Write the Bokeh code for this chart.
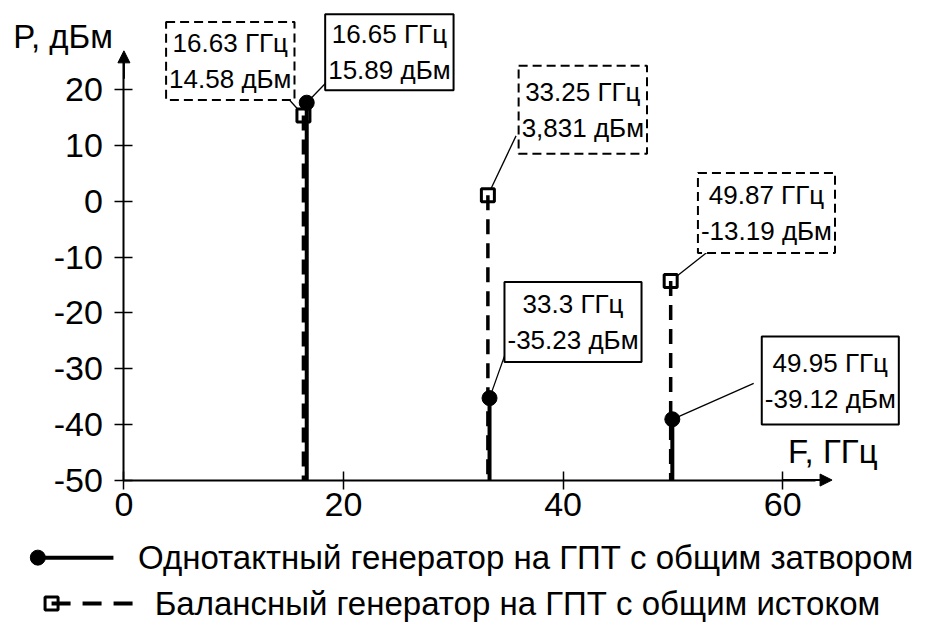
from bokeh.plotting import figure
from bokeh.models import (LinearAxis, FixedTicker, Range1d, Label, Arrow,
                          NormalHead, ColumnDataSource)
from bokeh.embed import file_html
from bokeh.resources import INLINE

# ---------------- data ----------------
freq_single = [16.65, 33.3, 49.95]          # Однотактный (dots, solid)
power_single = [17.7, -35.3, -39.1]
freq_bal = [16.35, 33.15, 49.8]             # Балансный (squares, dashed)
power_bal = [15.4, 1.1, -14.3]
label_single = ["16.65 ГГц\n15.89 дБм", "33.3 ГГц\n-35.23 дБм", "49.95 ГГц\n-39.12 дБм"]
label_bal = ["16.63 ГГц\n14.58 дБм", "33.25 ГГц\n3,831 дБм", "49.87 ГГц\n-13.19 дБм"]
x_ticks = [0, 20, 40, 60]
y_ticks = [-50, -40, -30, -20, -10, 0, 10, 20]
legend_single = "Однотактный генератор на ГПТ с общим затвором"
legend_bal = "Балансный генератор на ГПТ с общим истоком"
x_title = "F, ГГц"
y_title = "P, дБм"

# ---------------- layout ----------------
W, H = 925, 623
KX, KY = 0.982, 0.974
SX, SY = 11.18 * KX, 5.723 * KY
X0c = 125.7 * KX
Y0c = 206.2 * KY
xs = -X0c / SX
xe = (W - X0c) / SX
yt = Y0c / SY
yb = -(H - Y0c) / SY


def dx(rx):
    return xs + rx * KX / SX


def dy(ry):
    return yt - ry * KY / SY


FONT = "Liberation Sans"
INK = "black"

p = figure(width=W, height=H, x_range=Range1d(xs, xe), y_range=Range1d(yb, yt),
           x_axis_type=None, y_axis_type=None, toolbar_location=None,
           output_backend="svg", min_border=0, outline_line_color=None)
p.background_fill_color = "white"
p.border_fill_color = "white"

yaxis = LinearAxis(fixed_location=0, bounds=(-50, 25), ticker=FixedTicker(ticks=y_ticks),
                   major_label_overrides={t: str(t) for t in y_ticks},
                   major_tick_in=9, major_tick_out=9, minor_tick_line_color=None,
                   axis_line_width=2, major_tick_line_width=1.5, axis_line_color=INK,
                   major_tick_line_color=INK, major_label_text_color=INK,
                   major_label_text_font=FONT, major_label_text_font_size="34px",
                   major_label_standoff=12)
xaxis = LinearAxis(fixed_location=-50, bounds=(0, 63), ticker=FixedTicker(ticks=x_ticks),
                   major_label_overrides={t: str(t) for t in x_ticks},
                   major_tick_in=9, major_tick_out=9, minor_tick_line_color=None,
                   axis_line_width=2, major_tick_line_width=1.5, axis_line_color=INK,
                   major_tick_line_color=INK, major_label_text_color=INK,
                   major_label_text_font=FONT, major_label_text_font_size="34px",
                   major_label_standoff=4)
p.add_layout(yaxis, "left")
p.add_layout(xaxis, "below")

p.add_layout(Arrow(end=NormalHead(size=12, fill_color=INK, line_color=INK),
                   x_start=0, y_start=22, x_end=0, y_end=27.0, line_width=2, line_color=INK))
p.add_layout(Arrow(end=NormalHead(size=12, fill_color=INK, line_color=INK),
                   x_start=60, y_start=-50, x_end=64.5, y_end=-50, line_width=2, line_color=INK))

# axis titles
p.add_layout(Label(x=dx(13), y=dy(37), text=y_title, text_font=FONT, text_font_size="33px",
                   text_color=INK, text_align="left", text_baseline="middle"))
p.add_layout(Label(x=dx(802), y=dy(463), text=x_title, text_font=FONT, text_font_size="33px",
                   text_color=INK, text_align="left", text_baseline="middle"))

# annotation boxes: (center x, top y, h pad) in reference pixels
box_single = [(396, 14, 5), (583, 289, 7), (845, 345, 11)]
box_bal = [(234, 22, 6), (593, 67, 11), (780, 177, 7)]
lead_single = [(331, 85), (515, 360), (767, 393)]
lead_bal = [(287, 94), (525, 139), (734, 247)]

src_s = ColumnDataSource(dict(x=freq_single, y=power_single, base=[-50] * 3,
                              lx=[dx(a) for a, b in lead_single], ly=[dy(b) for a, b in lead_single]))
src_b = ColumnDataSource(dict(x=freq_bal, y=power_bal, base=[-50] * 3,
                              lx=[dx(a) for a, b in lead_bal], ly=[dy(b) for a, b in lead_bal]))

# leader lines
p.segment(x0="lx", y0="ly", x1="x", y1="y", source=src_s, line_color=INK, line_width=1.3)
p.segment(x0="lx", y0="ly", x1="x", y1="y", source=src_b, line_color=INK, line_width=1.3)

# squares then dashed stems (stem enters square)
p.scatter(x="x", y="y", source=src_b, marker="square", size=13, fill_color="white",
          line_color=INK, line_width=3)
p.segment(x0="x", y0="y", x1="x", y1="base", source=src_b, line_color=INK,
          line_width=3.5, line_dash="15 9")
# solid stems and dots
p.segment(x0="x", y0="y", x1="x", y1="base", source=src_s, line_color=INK, line_width=4)
p.scatter(x="x", y="y", source=src_s, marker="circle", size=15, fill_color=INK,
          line_color=INK)

for (cxp, top, hp), txt in zip(box_single, label_single):
    p.add_layout(Label(x=dx(cxp), y=dy(top), text=txt, text_font=FONT, text_font_size="26px",
                       text_color=INK, text_align="center", text_baseline="top",
                       padding=(3, hp), border_line_color=INK, border_line_width=2,
                       background_fill_color="white"))
for (cxp, top, hp), txt in zip(box_bal, label_bal):
    p.add_layout(Label(x=dx(cxp), y=dy(top), text=txt, text_font=FONT, text_font_size="26px",
                       text_color=INK, text_align="center", text_baseline="top",
                       padding=(3, hp), border_line_color=INK, border_line_width=2,
                       border_line_dash="9 5", background_fill_color="white"))

# legend (drawn)
LY1, LY2 = 572, 619
p.line(x=[dx(38), dx(115)], y=[dy(LY1), dy(LY1)], line_color=INK, line_width=4)
p.scatter(x=[dx(38)], y=[dy(LY1)], marker="circle", size=15, fill_color=INK, line_color=INK)
p.scatter(x=[dx(52)], y=[dy(LY2)], marker="square", size=13, fill_color="white",
          line_color=INK, line_width=3)
p.line(x=[dx(52), dx(137)], y=[dy(LY2), dy(LY2)], line_color=INK, line_width=4,
       line_dash="19 12")
p.add_layout(Label(x=dx(140), y=dy(LY1), text=legend_single, text_font=FONT,
                   text_font_size="33px", text_color=INK, text_align="left",
                   text_baseline="middle"))
p.add_layout(Label(x=dx(157), y=dy(LY2), text=legend_bal, text_font=FONT,
                   text_font_size="33px", text_color=INK, text_align="left",
                   text_baseline="middle"))

open("out.html", "w").write(file_html(p, INLINE))
